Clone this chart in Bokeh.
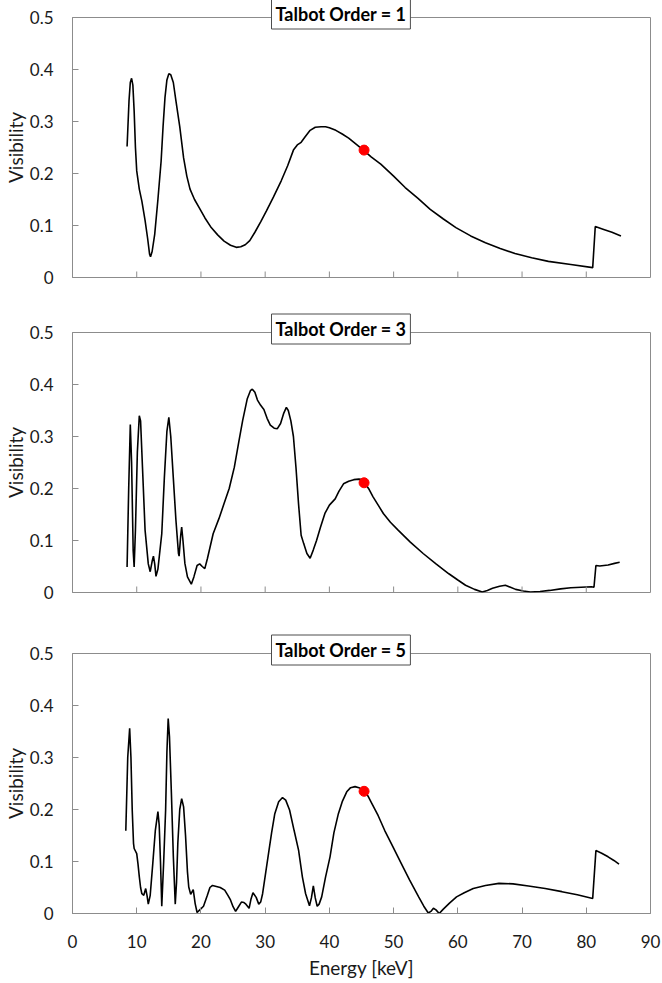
import math
from bokeh.plotting import figure
from bokeh.layouts import column
from bokeh.models import FixedTicker, Range1d, Title
from bokeh.embed import file_html
from bokeh.resources import INLINE

# ---------------- data ----------------
x_ticks = [0, 10, 20, 30, 40, 50, 60, 70, 80, 90]
x_tick_labels = ["0", "10", "20", "30", "40", "50", "60", "70", "80", "90"]
y_ticks = [0, 0.1, 0.2, 0.3, 0.4, 0.5]
y_tick_labels = ["0", "0.1", "0.2", "0.3", "0.4", "0.5"]

titles = ["Talbot Order = 1", "Talbot Order = 3", "Talbot Order = 5"]
x_label = "Energy [keV]"
y_label = "Visibility"

# Talbot order 1
e1 = [8.5, 8.8, 9.0, 9.2, 9.4, 9.6, 9.8, 10.0, 10.4, 10.8, 11.3, 11.7, 12.0, 12.15, 12.4,
      12.8, 13.3, 13.8, 14.1, 14.4, 14.7, 15.0, 15.3, 15.7, 16.1, 16.7, 17.3, 17.8, 18.3,
      19.0, 19.7, 20.6, 21.6, 22.6, 23.6, 24.6, 25.5, 26.2, 26.9, 27.6, 28.4, 29.3, 30.2,
      31.3, 32.5, 33.5, 34.4, 35.0, 35.6, 36.2, 37.0, 37.8, 38.7, 39.4, 40.0, 41.0, 42.0,
      43.0, 44.2, 45.3, 46.5, 48.0, 50.0, 51.8, 53.8, 55.7, 57.7, 59.7, 62.0, 64.3, 66.6,
      68.9, 71.5, 74.1, 77.6, 81.0, 81.4, 82.6, 84.0, 85.4]
v1 = [0.252, 0.340, 0.375, 0.383, 0.370, 0.320, 0.250, 0.205, 0.170, 0.147, 0.110, 0.075,
      0.045, 0.040, 0.050, 0.083, 0.150, 0.224, 0.290, 0.346, 0.380, 0.392, 0.390, 0.375,
      0.340, 0.290, 0.230, 0.195, 0.170, 0.150, 0.135, 0.115, 0.096, 0.082, 0.070, 0.062,
      0.058, 0.059, 0.063, 0.071, 0.087, 0.107, 0.128, 0.155, 0.186, 0.215, 0.245, 0.255,
      0.260, 0.270, 0.283, 0.289, 0.290, 0.290, 0.288, 0.283, 0.276, 0.268, 0.256, 0.245,
      0.232, 0.218, 0.195, 0.173, 0.152, 0.131, 0.113, 0.096, 0.080, 0.067, 0.056, 0.046,
      0.038, 0.031, 0.025, 0.019, 0.098, 0.093, 0.087, 0.080]

# Talbot order 3
e3 = [8.5, 8.75, 9.0, 9.2, 9.45, 9.6, 9.8, 10.1, 10.4, 10.6, 10.9, 11.3, 11.8, 12.1, 12.4,
      12.6, 12.8, 13.0, 13.3, 13.9, 14.3, 14.7, 15.0, 15.3, 15.7, 16.1, 16.5, 16.6, 16.85,
      17.0, 17.2, 17.5, 17.9, 18.5, 18.9, 19.4, 19.8, 20.2, 20.6, 21.0, 21.9, 22.8, 23.6,
      24.4, 25.2, 25.9, 26.5, 27.2, 27.7, 28.0, 28.4, 28.8, 29.3, 29.8, 30.3, 30.8, 31.4,
      31.9, 32.4, 32.9, 33.3, 33.6, 34.0, 34.4, 34.8, 35.2, 35.6, 36.0, 36.5, 37.0, 37.5,
      38.0, 38.6, 39.3, 40.0, 40.9, 41.5, 42.2, 43.0, 43.8, 44.6, 45.1, 45.5, 46.2, 46.8,
      47.6, 48.4, 49.5, 50.7, 52.6, 54.6, 56.6, 58.6, 60.0, 61.2, 62.6, 63.8, 64.6, 65.4,
      66.5, 67.4, 68.2, 69.0, 70.2, 71.3, 72.8, 74.3, 76.0, 77.6, 79.2, 80.8, 81.2, 81.5,
      82.1, 83.4, 84.4, 85.2]
v3 = [0.049, 0.200, 0.323, 0.250, 0.080, 0.049, 0.120, 0.270, 0.340, 0.330, 0.240, 0.120,
      0.055, 0.040, 0.060, 0.070, 0.055, 0.031, 0.045, 0.113, 0.220, 0.310, 0.337, 0.300,
      0.220, 0.140, 0.075, 0.070, 0.110, 0.126, 0.100, 0.056, 0.030, 0.016, 0.030, 0.052,
      0.055, 0.050, 0.046, 0.065, 0.113, 0.142, 0.171, 0.200, 0.241, 0.290, 0.331, 0.372,
      0.388, 0.391, 0.385, 0.370, 0.360, 0.352, 0.335, 0.322, 0.316, 0.315, 0.325, 0.345,
      0.356, 0.350, 0.330, 0.300, 0.240, 0.170, 0.110, 0.094, 0.075, 0.066, 0.082, 0.100,
      0.125, 0.152, 0.168, 0.180, 0.195, 0.209, 0.214, 0.217, 0.218, 0.217, 0.211, 0.198,
      0.184, 0.168, 0.152, 0.135, 0.120, 0.097, 0.075, 0.055, 0.036, 0.024, 0.014, 0.006,
      0.001, 0.004, 0.008, 0.012, 0.014, 0.010, 0.006, 0.003, 0.001, 0.002, 0.004, 0.007,
      0.009, 0.010, 0.011, 0.010, 0.052, 0.051, 0.053, 0.056, 0.058]

# Talbot order 5
e5 = [8.3, 8.6, 8.9, 9.1, 9.3, 9.5, 9.6, 10.0, 10.2, 10.4, 10.6, 10.8, 11.1, 11.4, 11.6,
      11.8, 12.1, 12.5, 12.9, 13.3, 13.5, 13.7, 13.9, 14.2, 14.5, 14.7, 14.9, 15.1, 15.4,
      15.7, 16.0, 16.2, 16.4, 16.7, 17.0, 17.3, 17.6, 17.9, 18.1, 18.4, 18.8, 19.1, 19.4,
      19.9, 20.4, 21.0, 21.4, 21.8, 22.4, 23.0, 23.7, 24.2, 24.6, 25.0, 25.4, 25.8, 26.3,
      26.7, 27.0, 27.5, 27.8, 28.1, 28.6, 29.0, 29.3, 29.6, 30.1, 30.6, 31.0, 31.5, 32.1,
      32.7, 33.2, 33.8, 34.5, 35.2, 35.8, 36.3, 36.9, 37.2, 37.5, 37.8, 38.1, 38.4, 38.8,
      39.4, 40.1, 40.7, 41.4, 42.0, 42.7, 43.3, 44.0, 44.6, 45.5, 46.0, 46.6, 47.6, 48.6,
      49.9, 51.2, 52.5, 53.9, 54.7, 55.4, 55.8, 56.2, 56.6, 57.1, 57.7, 58.7, 59.8, 61.0,
      62.4, 64.3, 66.4, 68.6, 71.0, 73.6, 76.2, 78.6, 81.0, 81.5, 82.4, 83.4, 84.3, 85.1]
v5 = [0.159, 0.300, 0.356, 0.300, 0.199, 0.135, 0.125, 0.115, 0.095, 0.071, 0.050, 0.038,
      0.035, 0.048, 0.035, 0.018, 0.035, 0.096, 0.160, 0.196, 0.170, 0.100, 0.014, 0.100,
      0.199, 0.310, 0.375, 0.340, 0.231, 0.110, 0.018, 0.060, 0.135, 0.200, 0.221, 0.205,
      0.150, 0.080, 0.051, 0.037, 0.046, 0.019, 0.002, 0.008, 0.014, 0.035, 0.050, 0.054,
      0.052, 0.050, 0.045, 0.035, 0.026, 0.013, 0.004, 0.012, 0.022, 0.021, 0.018, 0.010,
      0.028, 0.040, 0.031, 0.018, 0.022, 0.038, 0.080, 0.122, 0.155, 0.192, 0.215, 0.223,
      0.218, 0.199, 0.160, 0.122, 0.070, 0.038, 0.015, 0.030, 0.053, 0.030, 0.014, 0.018,
      0.032, 0.070, 0.109, 0.155, 0.192, 0.215, 0.234, 0.242, 0.244, 0.242, 0.235, 0.226,
      0.212, 0.188, 0.160, 0.128, 0.096, 0.064, 0.032, 0.014, 0.001, 0.004, 0.010, 0.007,
      0.000, 0.008, 0.020, 0.032, 0.040, 0.048, 0.054, 0.058, 0.057, 0.053, 0.048, 0.042,
      0.036, 0.029, 0.121, 0.116, 0.109, 0.102, 0.095]

dot_e = [45.4, 45.4, 45.4]
dot_v = [0.245, 0.211, 0.235]

series = [(e1, v1), (e3, v3), (e5, v5)]

# ---------------- styling ----------------
GRAY = "#8c8c8c"
FONT = "Lato"
TXT = "#1a1a1a"

heights = [300, 320, 362]
tops = [17, 32, 33]
bottoms = [23, 28, 69]

figs = []
for i in range(3):
    last = (i == 2)
    p = figure(width=662, height=heights[i], output_backend="svg", toolbar_location=None,
               x_range=Range1d(0, 90), y_range=Range1d(0, 0.5),
               min_border_left=72, min_border_right=12,
               min_border_top=tops[i], min_border_bottom=bottoms[i])
    p.xgrid.visible = False
    p.ygrid.visible = False
    p.outline_line_color = GRAY
    p.outline_line_width = 1
    p.background_fill_color = "white"
    p.border_fill_color = "white"

    ex, vy = series[i]
    p.line(ex, vy, line_color="black", line_width=1.6)
    p.scatter([dot_e[i]], [dot_v[i]], size=10, fill_color="red", line_color="red")

    axes = [p.yaxis[0]] + ([p.xaxis[0]] if last else [])
    for ax in axes:
        ax.axis_line_color = GRAY
        ax.major_tick_line_color = GRAY
        ax.major_tick_in = 6
        ax.major_tick_out = 0
        ax.minor_tick_line_color = None
        ax.major_label_text_font = FONT
        ax.major_label_text_font_size = "17px"
        ax.major_label_text_color = TXT
        ax.axis_label_text_font = FONT
        ax.axis_label_text_font_size = "19px"
        ax.axis_label_text_font_style = "normal"
        ax.axis_label_text_color = TXT

    if last:
        xa = p.xaxis[0]
        xa.ticker = FixedTicker(ticks=x_ticks)
        xa.major_label_overrides = dict(zip(x_ticks, x_tick_labels))
        xa.axis_label = x_label
        xa.major_label_standoff = 21
        xa.axis_label_standoff = 5
    else:
        # unlabeled x axis: the frame outline gives the base line, inward ticks as
        # vertical dashes at the tick positions (lower half clipped by the frame)
        p.xaxis.visible = False
        inner = x_ticks[1:-1]
        p.scatter(inner, [0] * len(inner), marker="dash", angle=math.pi / 2,
                  size=12, line_color=GRAY, line_width=1)

    ya = p.yaxis[0]
    ya.ticker = FixedTicker(ticks=y_ticks)
    ya.major_label_overrides = dict(zip(y_ticks, y_tick_labels))
    ya.axis_label = y_label
    ya.major_label_standoff = 19
    ya.axis_label_standoff = 0

    t = Title(text=titles[i], align="left", offset=199, standoff=-23,
              text_font=FONT, text_font_size="18px", text_font_style="bold",
              text_color="black", background_fill_color="white",
              border_line_color="#4d4d4d", border_line_width=1, padding=4)
    p.title = t
    figs.append(p)

layout = column(*figs, spacing=0)
open("out.html", "w").write(file_html(layout, INLINE))
